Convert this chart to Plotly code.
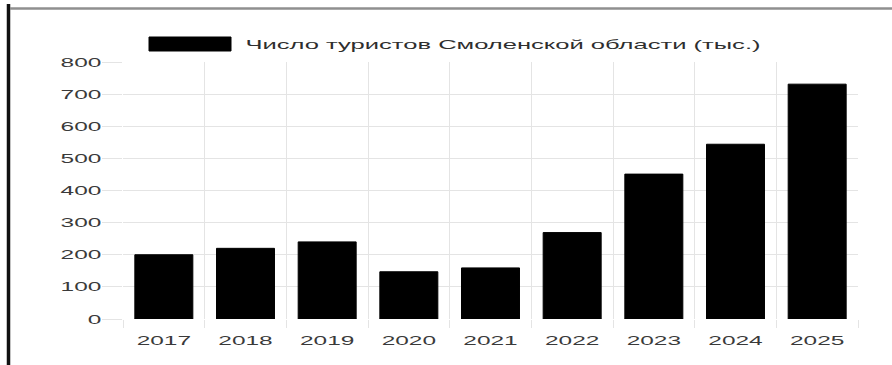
import plotly.graph_objects as go

# ---- data ----
years = ["2017", "2018", "2019", "2020", "2021", "2022", "2023", "2024", "2025"]
tourists = [200, 220, 240, 147, 159, 269, 451, 544, 731]
series_name = "Число туристов Смоленской области (тыс.)"
y_ticks = [0, 100, 200, 300, 400, 500, 600, 700, 800]

# ---- layout constants (pixels) ----
W, H = 892, 365
PL, PR, PT, PB = 123, 858, 62, 319
pw, ph = PR - PL, PB - PT


def px(x):
    return (x - PL) / pw


def py(y):
    return (PB - y) / ph


GRID = "#e4e4e4"
FONT = "Liberation Sans"
TICK_COLOR = "#3a3a3a"

fig = go.Figure()
fig.add_trace(go.Bar(
    x=years, y=tourists, name=series_name,
    marker=dict(color="#000000", line=dict(color="#000000", width=1)),
    showlegend=False,
))

shapes = [
    # legend swatch
    dict(type="rect", xref="paper", yref="paper",
         x0=px(149), x1=px(231), y0=py(51), y1=py(37),
         fillcolor="#000000", line=dict(color="#000000", width=1)),
    # left thick black border
    dict(type="line", xref="paper", yref="paper",
         x0=px(8.5), x1=px(8.5), y0=py(4), y1=py(370),
         line=dict(color="#111111", width=3.5)),
    # top grey border
    dict(type="line", xref="paper", yref="paper",
         x0=px(10), x1=px(900), y0=py(8.5), y1=py(8.5),
         line=dict(color="#8f8f8f", width=2.5)),
]

annotations = [
    dict(text=series_name, xref="paper", yref="paper",
         x=px(502.5), y=py(44), xanchor="center", yanchor="middle",
         showarrow=False, font=dict(family=FONT, size=13, color="#2e2e2e")),
]

fig.update_layout(
    width=W, height=H,
    margin=dict(l=PL, r=W - PR, t=PT, b=H - PB, pad=0),
    paper_bgcolor="#ffffff", plot_bgcolor="#ffffff",
    bargap=0.29,
    font=dict(family=FONT, size=13, color=TICK_COLOR),
    shapes=shapes, annotations=annotations,
    xaxis=dict(type="category", tickson="boundaries", showgrid=True,
               gridcolor=GRID, gridwidth=1, ticks="outside", ticklen=8,
               tickcolor=GRID, showline=False, zeroline=False,
               ticklabelstandoff=12,
               tickfont=dict(family=FONT, size=13, color=TICK_COLOR)),
    yaxis=dict(range=[0, 800], tickvals=y_ticks, showgrid=True,
               gridcolor=GRID, gridwidth=1, ticks="outside", ticklen=20,
               tickcolor=GRID, showline=False, zeroline=False,
               ticklabelstandoff=-2,
               tickfont=dict(family=FONT, size=13, color=TICK_COLOR)),
)

stretch_js = """
document.body.style.margin = '0';
var gd = document.getElementById('{plot_id}');
gd.querySelectorAll('.xtick text, .ytick text').forEach(function(t){
  var w = t.getComputedTextLength();
  if (w > 0) {
    t.setAttribute('textLength', (w * 1.88).toFixed(2));
    t.setAttribute('lengthAdjust', 'spacingAndGlyphs');
  }
});
gd.querySelectorAll('.annotation-text').forEach(function(t){
  t.setAttribute('textLength', '515');
  t.setAttribute('lengthAdjust', 'spacingAndGlyphs');
});
"""

fig.write_html("out.html", post_script=stretch_js, config={"displayModeBar": False})
